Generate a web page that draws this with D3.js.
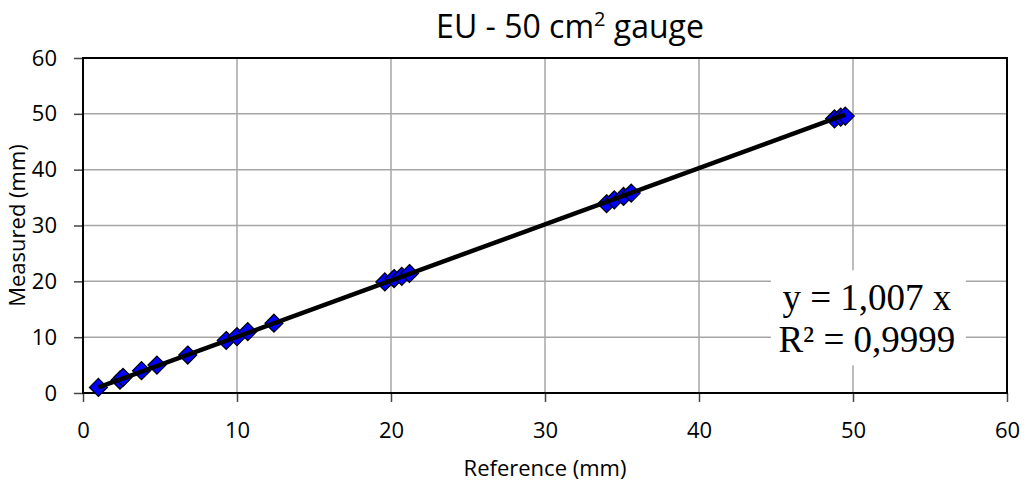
<!DOCTYPE html>
<html>
<head>
<meta charset="utf-8">
<script src="https://cdn.jsdelivr.net/npm/d3@7"></script>
<style>
  body { margin: 0; background: #fff; }
  text { font-family: "Open Sans", sans-serif; }
</style>
</head>
<body>
<div id="chart"></div>
<script>
// reference vs measured rainfall (mm)
var refMm  = [1.0, 2.4, 2.6, 3.8, 4.8, 6.8, 9.3, 10.0, 10.7, 12.4,
              19.6, 20.2, 20.7, 21.2, 34.0, 34.5, 35.1, 35.6, 48.8, 49.2, 49.5];
var measMm = [1.0, 2.3, 2.8, 4.0, 5.0, 6.8, 9.4, 10.1, 11.0, 12.5,
              19.9, 20.5, 20.9, 21.4, 33.9, 34.6, 35.2, 35.8, 49.1, 49.4, 49.6];
var slope = 1.007;
var xTicks = [0, 10, 20, 30, 40, 50, 60];
var yTicks = [0, 10, 20, 30, 40, 50, 60];

var margin = {top: 58, right: 20, bottom: 89, left: 83},
    width = 1027 - margin.left - margin.right,
    height = 482 - margin.top - margin.bottom;

var svgRoot = d3.select("#chart")
    .append("svg")
      .attr("width", 1027)
      .attr("height", 482);

var svg = svgRoot.append("g")
      .attr("transform", "translate(" + margin.left + "," + margin.top + ")");

var x = d3.scaleLinear().domain([0, 60]).range([0, width]);
var y = d3.scaleLinear().domain([0, 60]).range([height, 0]);

// gridlines
svg.append("g").selectAll("line")
  .data(xTicks.slice(1, -1))
  .enter().append("line")
    .attr("x1", d => x(d)).attr("x2", d => x(d))
    .attr("y1", 0).attr("y2", height)
    .attr("stroke", "#a6a6a6").attr("stroke-width", 1.5);
svg.append("g").selectAll("line")
  .data(yTicks.slice(1, -1))
  .enter().append("line")
    .attr("y1", d => y(d)).attr("y2", d => y(d))
    .attr("x1", 0).attr("x2", width)
    .attr("stroke", "#a6a6a6").attr("stroke-width", 1.5);

// axes
var xAxis = svg.append("g")
    .attr("transform", "translate(0," + height + ")")
    .call(d3.axisBottom(x).tickValues(xTicks).tickSizeInner(9).tickSizeOuter(0).tickPadding(20));
var yAxis = svg.append("g")
    .call(d3.axisLeft(y).tickValues(yTicks).tickSizeInner(9).tickSizeOuter(0).tickPadding(17));
[xAxis, yAxis].forEach(function(a) {
  a.select(".domain").remove();
  a.selectAll(".tick line").attr("stroke", "#444").attr("stroke-width", 1.5);
  a.selectAll(".tick text").attr("font-family", "Open Sans").attr("font-size", 22).attr("fill", "#000");
});

// plot border
svg.append("rect")
    .attr("width", width).attr("height", height)
    .attr("fill", "none").attr("stroke", "#000").attr("stroke-width", 2);

// points
var pts = refMm.map((d, i) => [d, measMm[i]]);
svg.append("g").selectAll("path")
  .data(pts)
  .enter().append("path")
    .attr("d", "M0,-9L9,0L0,9L-9,0Z")
    .attr("transform", d => "translate(" + x(d[0]) + "," + y(d[1]) + ")")
    .attr("fill", "#0000ff")
    .attr("stroke", "#000").attr("stroke-width", 1.2);

// trendline y = 1.007x across the data range
var xMin = d3.min(refMm), xMax = d3.max(refMm);
svg.append("line")
    .attr("x1", x(xMin)).attr("y1", y(slope * xMin))
    .attr("x2", x(xMax)).attr("y2", y(slope * xMax))
    .attr("stroke", "#000").attr("stroke-width", 4.5);

// equation box
var eq = svg.append("g").attr("transform", "translate(" + x(50.9) + "," + y(14.8) + ")");
eq.append("rect")
    .attr("x", -96).attr("y", -40).attr("width", 195).attr("height", 95)
    .attr("fill", "#fff");
eq.append("text")
    .attr("text-anchor", "middle").attr("y", 0)
    .style("font-family", "'Liberation Serif', serif").attr("font-size", 37)
    .text("y = 1,007 x");
eq.append("text")
    .attr("text-anchor", "middle").attr("y", 42)
    .style("font-family", "'Liberation Serif', serif").attr("font-size", 37)
    .text("R² = 0,9999");

// title
var title = svgRoot.append("text")
    .attr("x", 570).attr("y", 38)
    .attr("text-anchor", "middle")
    .attr("font-size", 32)
    .text("EU - 50 cm");
title.append("tspan").attr("dy", -12).attr("font-size", 20).text("2");
title.append("tspan").attr("dy", 12).text(" gauge");

// axis labels
svgRoot.append("text")
    .attr("x", margin.left + width / 2).attr("y", 476)
    .attr("text-anchor", "middle").attr("font-size", 22)
    .text("Reference (mm)");
svgRoot.append("text")
    .attr("transform", "translate(25," + (margin.top + height / 2) + ") rotate(-90)")
    .attr("text-anchor", "middle").attr("font-size", 22)
    .text("Measured (mm)");
</script>
</body>
</html>
